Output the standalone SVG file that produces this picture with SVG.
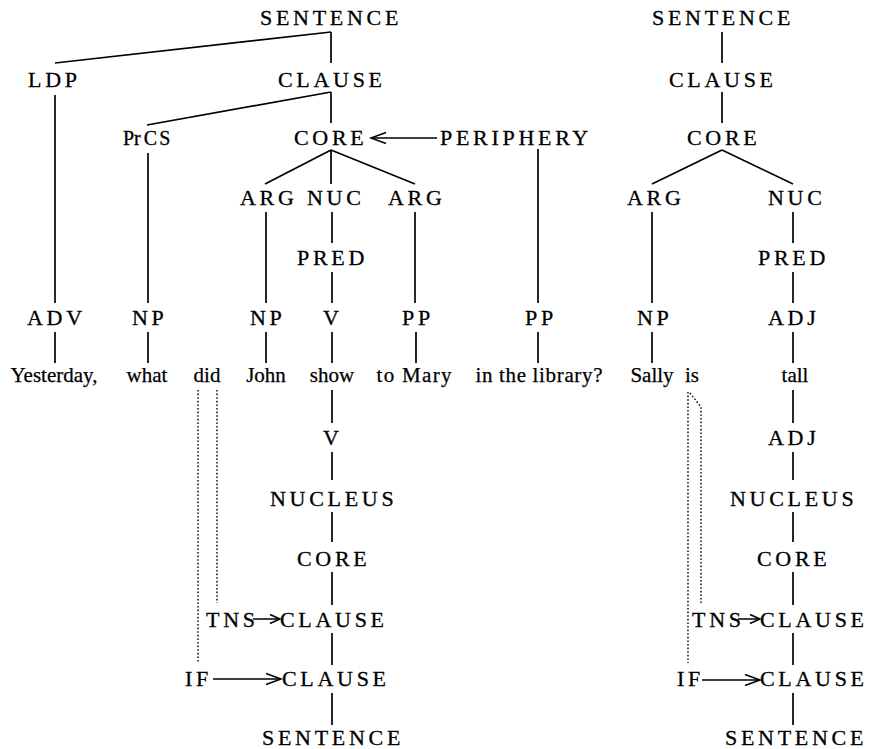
<svg xmlns="http://www.w3.org/2000/svg" width="869" height="749" viewBox="0 0 869 749">
  <style>
    .cat { font-family: "Liberation Serif", "Times New Roman", serif; font-size: 22px; letter-spacing: 3.7px; fill: #000; stroke: #000; stroke-width: 0.3; }
    .word { font-family: "Liberation Serif", "Times New Roman", serif; font-size: 21px; fill: #000; stroke: #000; stroke-width: 0.25; text-anchor: middle; }
    .edge { stroke: #000; stroke-width: 1.7; fill: none; }
    .dot { stroke: #000; stroke-width: 1.4; fill: none; stroke-dasharray: 1.6 2; }
    .arr { stroke: #000; stroke-width: 1.5; fill: none; }
  </style>
  <defs>
    <marker id="head" markerUnits="userSpaceOnUse" markerWidth="20" markerHeight="14" viewBox="-16 -7 20 14" refX="0" refY="0" orient="auto">
      <path d="M -15 -5.5 L 0 0 L -15 5.5" stroke="#000" stroke-width="1.5" fill="none"/>
    </marker>
    <marker id="head2" markerUnits="userSpaceOnUse" markerWidth="14" markerHeight="12" viewBox="-12 -6 14 12" refX="0" refY="0" orient="auto">
      <path d="M -10 -4.5 L 0 0 L -10 4.5" stroke="#000" stroke-width="1.5" fill="none"/>
    </marker>
  </defs>
  <rect width="869" height="749" fill="#fff"/>

  <!-- tree edges -->
  <g id="connectors">
    <!-- left tree, upper half -->
    <path class="edge" d="M331 32 V63 M331 32 L55 63"/>
    <path class="edge" d="M331 92 V123 M331 92 L147 125"/>
    <path class="edge" d="M55 95 V303"/>
    <path class="edge" d="M148 153 V303"/>
    <path class="edge" d="M331 150 L265 184 M331 150 V184 M331 150 L415 184"/>
    <path class="edge" d="M266 212 V303"/>
    <path class="edge" d="M332 212 V243 M332 272 V303"/>
    <path class="edge" d="M415 212 V303"/>
    <path class="edge" d="M538 149 V303"/>
    <line class="arr" x1="437" y1="138" x2="371" y2="138" marker-end="url(#head)"/>
    <path class="edge" d="M55 332 V363 M148 332 V363 M266 332 V363 M332 332 V363 M416 332 V363 M538 332 V363"/>
    <!-- left tree, lower half -->
    <path class="edge" d="M332 390 V423 M332 452 V480 M332 512 V542 M332 572 V605 M332 633 V665 M332 693 V725"/>
    <line class="arr" x1="253" y1="619" x2="280" y2="619" marker-end="url(#head2)"/>
    <line class="arr" x1="213" y1="679" x2="281" y2="679" marker-end="url(#head)"/>
    <path class="dot" d="M198 390 V663"/>
    <path class="dot" d="M217 390 V603"/>
    <!-- right tree, upper half -->
    <path class="edge" d="M722 32 V63 M722 92 V123"/>
    <path class="edge" d="M722 150 L652 184 M722 150 L793 184"/>
    <path class="edge" d="M652 212 V303 M793 212 V243 M793 272 V303"/>
    <path class="edge" d="M652 332 V363 M793 332 V363"/>
    <!-- right tree, lower half -->
    <path class="edge" d="M793 390 V423 M793 452 V480 M793 512 V542 M793 572 V605 M793 633 V665 M793 693 V725"/>
    <line class="arr" x1="738" y1="619" x2="760" y2="619" marker-end="url(#head2)"/>
    <line class="arr" x1="702" y1="680" x2="760" y2="680" marker-end="url(#head)"/>
    <path class="dot" d="M688 392 V663"/>
    <path class="dot" d="M690 393 L701 407 V603"/>
  </g>

  <!-- left tree nodes -->
  <g id="l-sentence"><text class="cat" x="260" y="25">SENTENCE</text></g>
  <g id="l-ldp"><text class="cat" x="28" y="87">LDP</text></g>
  <g id="l-clause"><text class="cat" x="278" y="87">CLAUSE</text></g>
  <g id="l-prcs"><text class="cat" x="123" y="145" style="letter-spacing:0;font-size:20px">Pr<tspan dx="3">C</tspan><tspan dx="2">S</tspan></text></g>
  <g id="l-core"><text class="cat" x="294" y="145">CORE</text></g>
  <g id="l-periphery"><text class="cat" x="440" y="145">PERIPHERY</text></g>
  <g id="l-arg1"><text class="cat" x="240" y="205">ARG</text></g>
  <g id="l-nuc"><text class="cat" x="307" y="205">NUC</text></g>
  <g id="l-arg2"><text class="cat" x="388" y="205">ARG</text></g>
  <g id="l-pred"><text class="cat" x="297" y="265">PRED</text></g>
  <g id="l-adv"><text class="cat" x="27" y="325">ADV</text></g>
  <g id="l-np1"><text class="cat" x="132" y="325">NP</text></g>
  <g id="l-np2"><text class="cat" x="250" y="325">NP</text></g>
  <g id="l-v1"><text class="cat" x="323" y="325">V</text></g>
  <g id="l-pp1"><text class="cat" x="402" y="325">PP</text></g>
  <g id="l-pp2"><text class="cat" x="525" y="325">PP</text></g>

  <g id="w-yesterday"><text class="word" x="54" y="382">Yesterday,</text></g>
  <g id="w-what"><text class="word" x="147" y="382">what</text></g>
  <g id="w-did"><text class="word" x="207" y="382">did</text></g>
  <g id="w-john"><text class="word" x="266" y="382">John</text></g>
  <g id="w-show"><text class="word" x="332" y="382">show</text></g>
  <g id="w-tomary"><text class="word" x="414" y="382" textLength="75" lengthAdjust="spacing">to Mary</text></g>
  <g id="w-library"><text class="word" x="539" y="382" textLength="127" lengthAdjust="spacing">in the library?</text></g>

  <g id="l-v2"><text class="cat" x="323" y="445">V</text></g>
  <g id="l-nucleus"><text class="cat" x="270" y="506">NUCLEUS</text></g>
  <g id="l-core2"><text class="cat" x="297" y="566">CORE</text></g>
  <g id="l-tns"><text class="cat" x="206" y="627">TNS</text></g>
  <g id="l-clause2"><text class="cat" x="280" y="627">CLAUSE</text></g>
  <g id="l-if"><text class="cat" x="185" y="686">IF</text></g>
  <g id="l-clause3"><text class="cat" x="282" y="686">CLAUSE</text></g>
  <g id="l-sentence2"><text class="cat" x="262" y="745">SENTENCE</text></g>

  <!-- right tree nodes -->
  <g id="r-sentence"><text class="cat" x="652" y="25">SENTENCE</text></g>
  <g id="r-clause"><text class="cat" x="669" y="87">CLAUSE</text></g>
  <g id="r-core"><text class="cat" x="687" y="145">CORE</text></g>
  <g id="r-arg"><text class="cat" x="627" y="205">ARG</text></g>
  <g id="r-nuc"><text class="cat" x="768" y="205">NUC</text></g>
  <g id="r-pred"><text class="cat" x="758" y="265">PRED</text></g>
  <g id="r-np"><text class="cat" x="637" y="325">NP</text></g>
  <g id="r-adj"><text class="cat" x="768" y="325">ADJ</text></g>

  <g id="w-sally"><text class="word" x="652" y="382">Sally</text></g>
  <g id="w-is"><text class="word" x="692" y="382">is</text></g>
  <g id="w-tall"><text class="word" x="795" y="382">tall</text></g>

  <g id="r-adj2"><text class="cat" x="768" y="445">ADJ</text></g>
  <g id="r-nucleus"><text class="cat" x="730" y="506">NUCLEUS</text></g>
  <g id="r-core2"><text class="cat" x="757" y="566">CORE</text></g>
  <g id="r-tns"><text class="cat" x="692" y="627">TNS</text></g>
  <g id="r-clause2"><text class="cat" x="760" y="627">CLAUSE</text></g>
  <g id="r-if"><text class="cat" x="677" y="686">IF</text></g>
  <g id="r-clause3"><text class="cat" x="760" y="686">CLAUSE</text></g>
  <g id="r-sentence2"><text class="cat" x="725" y="745">SENTENCE</text></g>
</svg>
